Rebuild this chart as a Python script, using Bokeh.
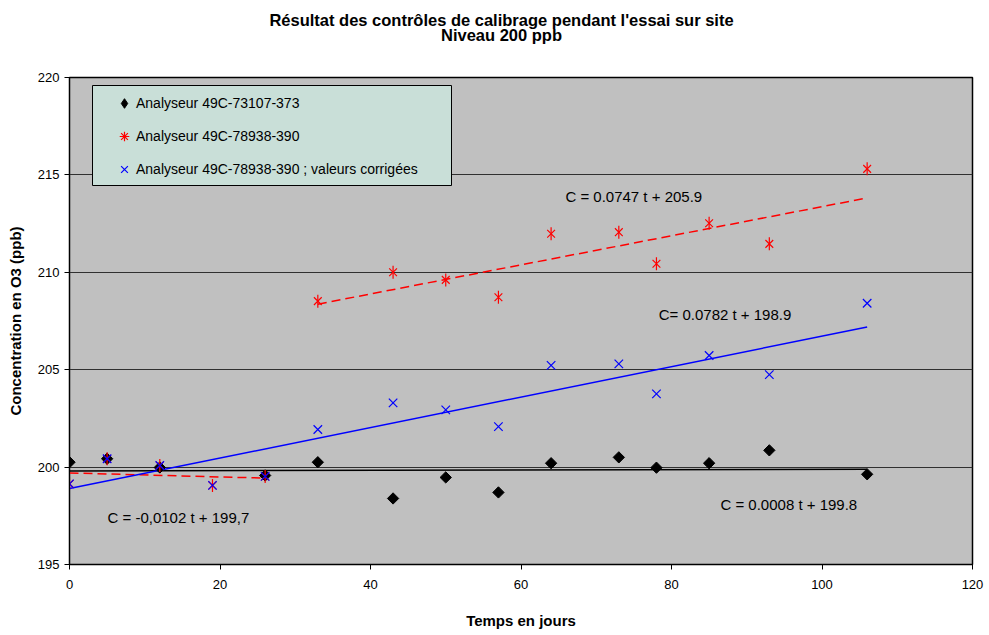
import numpy as np
from bokeh.plotting import figure
from bokeh.models import (Range1d, Legend, LegendItem, Label, FixedTicker,
                          ColumnDataSource, BoxAnnotation)
from bokeh.embed import file_html
from bokeh.resources import INLINE

# ---------------- data ----------------
days_a = [0, 5, 12, 26, 33, 43, 50, 57, 64, 73, 78, 85, 93, 106]
conc_a = [200.25, 200.43, 199.98, 199.57, 200.25, 198.39, 199.47, 198.70,
          200.20, 200.50, 199.97, 200.20, 200.86, 199.63]

days_b = [0, 5, 12, 19, 26, 33, 43, 50, 57, 64, 73, 78, 85, 93, 106]
conc_b = [199.14, 200.43, 200.08, 199.06, 199.52, 208.52, 210.00, 209.61,
          208.72, 211.98, 212.06, 210.44, 212.52, 211.46, 215.31]
conc_b_corr = [199.14, 200.43, 200.08, 199.06, 199.52, 201.93, 203.30, 202.94,
               202.08, 205.22, 205.30, 203.76, 205.73, 204.75, 208.41]

# trend equations as printed on the chart: (slope, intercept, t_start, t_end)
trend_a = (0.0008, 199.8, 0, 106)
trend_b_early = (-0.0102, 199.7, 0, 26)
trend_b_late = (0.0747, 205.9, 33, 106)
trend_b_corr = (0.0782, 198.9, 0, 106)

labels = ["Analyseur 49C-73107-373",
          "Analyseur 49C-78938-390",
          "Analyseur 49C-78938-390 ; valeurs corrigées"]
eq_texts = ["C = 0.0747 t + 205.9", "C= 0.0782 t + 198.9",
            "C = -0,0102 t + 199,7", "C = 0.0008 t + 199.8"]
eq_pos = [(65.9, 213.89), (78.3, 207.83), (5.05, 197.41), (86.5, 198.09)]

title1 = "Résultat des contrôles de calibrage pendant l'essai sur site"
title2 = "Niveau 200 ppb"
x_ticks = [0, 20, 40, 60, 80, 100, 120]
y_ticks = [195, 200, 205, 210, 215, 220]

FONT = "Liberation Sans"

# ---------------- figure ----------------
p = figure(width=989, height=635, x_range=Range1d(0, 120), y_range=Range1d(195, 220),
           output_backend="svg", toolbar_location=None,
           min_border_left=69, min_border_right=17, min_border_top=77, min_border_bottom=71,
           background_fill_color="#C0C0C0", border_fill_color="white")

# two-line centred title; asymmetric padding moves it up and slightly left
p.title.text = title1 + "\n" + title2
p.title.align = "center"
try:
    p.title.text_align = "center"
except Exception:
    pass
p.title.text_font = FONT
p.title.text_font_size = "16.5px"
p.title.text_font_style = "bold"
p.title.text_color = "black"
p.title.text_line_height = 0.84
p.title.standoff = 0
try:
    p.title.padding = dict(left=0, right=39, top=0, bottom=33)
except Exception:
    try:
        p.title.padding = (0, 39, 33, 0)
    except Exception:
        p.title.standoff = 40

p.outline_line_color = "black"
p.outline_line_width = 1.5

p.xgrid.grid_line_color = None
p.ygrid.grid_line_color = "#303030"
p.ygrid.grid_line_width = 1

p.xaxis.ticker = FixedTicker(ticks=x_ticks)
p.yaxis.ticker = FixedTicker(ticks=y_ticks)
for ax in (p.xaxis[0], p.yaxis[0]):
    ax.minor_tick_line_color = None
    ax.major_tick_in = 0
    ax.major_tick_out = 5
    ax.major_tick_line_color = "black"
    ax.axis_line_color = "black"
    ax.major_label_text_font = FONT
    ax.major_label_text_font_size = "13px"
    ax.major_label_text_color = "black"
    ax.axis_label_text_font = FONT
    ax.axis_label_text_font_size = "15px"
    ax.axis_label_text_font_style = "bold"
    ax.axis_label_text_color = "black"

p.xaxis.axis_label = "Temps en jours"
p.yaxis.axis_label = "Concentration en O3 (ppb)"
p.xaxis.major_label_standoff = 10
p.xaxis.axis_label_standoff = 20
p.yaxis.major_label_standoff = 5
p.yaxis.axis_label_standoff = 11

# ---------------- trend lines ----------------
def trend(coef):
    s, b, t0, t1 = coef
    t = np.array([t0, t1], dtype=float)
    return t, s * t + b

t, y = trend(trend_a)
p.line(t, y, line_color="black", line_width=1.5)
t, y = trend(trend_b_early)
p.line(t, y, line_color="red", line_width=1.5, line_dash="9 5")
t, y = trend(trend_b_late)
p.line(t, y, line_color="red", line_width=1.5, line_dash="9 5")
t, y = trend(trend_b_corr)
p.line(t, y, line_color="blue", line_width=1.5)

# ---------------- points ----------------
src_a = ColumnDataSource(dict(x=days_a, y=conc_a))
src_b = ColumnDataSource(dict(x=days_b, y=conc_b, yc=conc_b_corr))

r_a = p.scatter("x", "y", source=src_a, marker="square", angle=np.pi / 4, size=8,
                fill_color="black", line_color="black", line_width=1)
# six-armed star: an x with a vertical stroke
r_b1 = p.scatter("x", "y", source=src_b, marker="x", size=11,
                 line_color="red", line_width=1.2)
r_b2 = p.scatter("x", "y", source=src_b, marker="dash", angle=np.pi / 2, size=13,
                 line_color="red", line_width=1.2)
r_c = p.scatter("x", "yc", source=src_b, marker="x", size=12,
                line_color="blue", line_width=1.2)
# legend key for the first series (diamond shape, as in the original key)
r_a_key = p.scatter("x", "y", source=src_a, marker="diamond", size=11,
                    fill_color="black", line_color="black", visible=False)
r_b_key = p.scatter("x", "y", source=src_b, marker="asterisk", size=11,
                    line_color="red", line_width=1.2, visible=False)

# ---------------- equations ----------------
for txt, (ex, ey) in zip(eq_texts, eq_pos):
    p.add_layout(Label(x=ex, y=ey, text=txt, text_font=FONT, text_font_size="15px",
                       text_baseline="middle", text_align="left", text_color="black"))

# ---------------- legend ----------------
p.add_layout(BoxAnnotation(left=23, right=382, top=479, bottom=379,
                           left_units="screen", right_units="screen",
                           top_units="screen", bottom_units="screen",
                           fill_color="#C9DFD8", fill_alpha=1.0,
                           line_color="black", line_width=1, line_alpha=1.0))

legend = Legend(items=[LegendItem(label=labels[0], renderers=[r_a_key]),
                       LegendItem(label=labels[1], renderers=[r_b_key]),
                       LegendItem(label=labels[2], renderers=[r_c])],
                location=(43, 382), padding=0, spacing=7, margin=0,
                glyph_width=24, glyph_height=26, label_height=26,
                label_standoff=0, inactive_fill_alpha=0.0,
                label_text_font=FONT, label_text_font_size="14px", label_text_color="black",
                background_fill_alpha=0.0, border_line_color=None)
p.add_layout(legend, "center")

open("out.html", "w").write(file_html(p, INLINE))
